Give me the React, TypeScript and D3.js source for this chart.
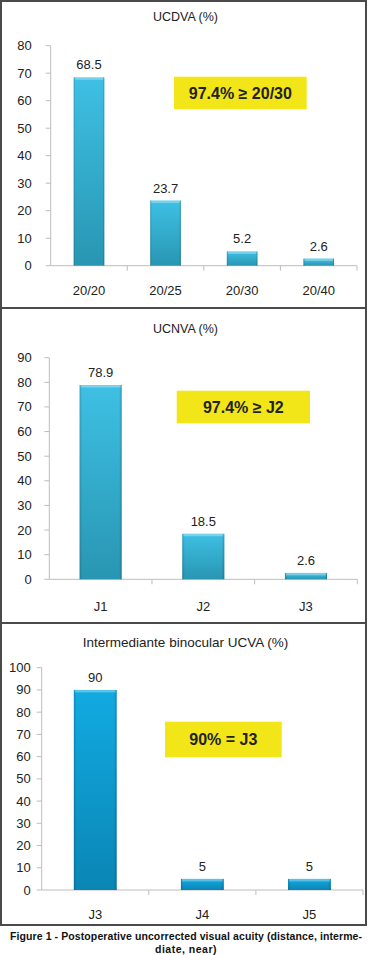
import React from "react";
import * as d3 from "d3";

const cats1 = ["20/20", "20/25", "20/30", "20/40"];
const vals1 = [68.5, 23.7, 5.2, 2.6];
const cats2 = ["J1", "J2", "J3"];
const vals2 = [78.9, 18.5, 2.6];
const cats3 = ["J3", "J4", "J5"];
const vals3 = [90, 5, 5];
const titles = ["UCDVA (%)", "UCNVA (%)", "Intermediante binocular UCVA (%)"];
const notes = ["97.4% \u2265 20/30", "97.4% \u2265 J2", "90% = J3"];
const yMaxes = [80, 90, 100];
const caption1 = "Figure 1 - Postoperative uncorrected visual acuity (distance, interme-";
const caption2 = "diate, near)";

const FONT = "'Liberation Sans', Arial, sans-serif";

type PanelProps = {
  id: string;
  cats: string[];
  vals: number[];
  yMax: number;
  title: string;
  note: string;
  box: [number, number, number, number];
  axisX: number;
  xEnd: number;
  y0: number;
  yTop: number;
  titleY: number;
  titleSize: number;
  labelY: number;
  tickRight: number;
  noteBox: [number, number, number, number];
  gradTop: string;
  gradBot: string;
  barRatio: number;
};

function Panel(p: PanelProps) {
  const x = d3.scaleBand<string>().domain(p.cats).range([p.axisX, p.xEnd]).paddingInner(0).paddingOuter(0);
  const y = d3.scaleLinear().domain([0, p.yMax]).range([p.y0, p.yTop]);
  const ticks = d3.range(0, p.yMax + 1, 10);
  const bw = x.bandwidth() * p.barRatio;
  const [bx, by, bwid, bh] = p.box;
  const [nx, ny, nw, nh] = p.noteBox;
  return (
    <g>
      <defs>
        <linearGradient id={p.id + "v"} x1="0" y1="0" x2="0" y2="1">
          <stop offset="0" stopColor={p.gradTop} />
          <stop offset="1" stopColor={p.gradBot} />
        </linearGradient>
        <linearGradient id={p.id + "h"} x1="0" y1="0" x2="1" y2="0">
          <stop offset="0" stopColor="#000" stopOpacity="0.18" />
          <stop offset="0.06" stopColor="#000" stopOpacity="0.0" />
          <stop offset="0.94" stopColor="#000" stopOpacity="0.0" />
          <stop offset="1" stopColor="#000" stopOpacity="0.22" />
        </linearGradient>
      </defs>
      <rect x={bx} y={by} width={bwid} height={bh} fill="#fff" stroke="#4a4a4a" strokeWidth={2} />
      <text x={(bx + bwid / 2) + 2} y={p.titleY} textAnchor="middle" dominantBaseline="central"
        fontFamily={FONT} fontSize={p.titleSize} fill="#222">{p.title}</text>
      <line x1={p.axisX} x2={p.axisX} y1={p.yTop} y2={p.y0} stroke="#bdbdbd" strokeWidth={1} />
      <line x1={p.axisX} x2={p.xEnd} y1={p.y0} y2={p.y0} stroke="#bdbdbd" strokeWidth={1} />
      {ticks.map((t) => (
        <g key={t}>
          <line x1={p.axisX - 5} x2={p.axisX} y1={y(t)} y2={y(t)} stroke="#bdbdbd" />
          <text x={p.tickRight} y={y(t)} textAnchor="end" dominantBaseline="central"
            fontFamily={FONT} fontSize={13} fill="#222">{t}</text>
        </g>
      ))}
      {p.cats.map((c) => (
        <line key={"xt" + c} x1={(x(c) as number) + x.bandwidth()} x2={(x(c) as number) + x.bandwidth()}
          y1={p.y0} y2={p.y0 + 5} stroke="#bdbdbd" />
      ))}
      {p.cats.map((c, i) => {
        const cx = (x(c) as number) + x.bandwidth() / 2;
        const v = p.vals[i];
        const top = y(v);
        const h = p.y0 - top;
        return (
          <g key={c}>
            <rect x={cx - bw / 2} y={top} width={bw} height={h} fill={`url(#${p.id}v)`} />
            <rect x={cx - bw / 2} y={top} width={bw} height={h} fill={`url(#${p.id}h)`} />
            <rect x={cx - bw / 2 + 1} y={top} width={bw - 2} height={Math.min(2.5, h)} fill="#fff" opacity={0.3} />
            <text x={cx} y={top - 8} textAnchor="middle" fontFamily={FONT} fontSize={13} fill="#222">{v}</text>
            <text x={cx} y={p.labelY} textAnchor="middle" dominantBaseline="central"
              fontFamily={FONT} fontSize={13} fill="#222">{c}</text>
          </g>
        );
      })}
      <rect x={nx} y={ny} width={nw} height={nh} fill="#f2e618" />
      <text x={nx + nw / 2} y={ny + nh / 2} textAnchor="middle" dominantBaseline="central"
        fontFamily={FONT} fontWeight="bold" fontSize={16} fill="#222">{p.note}</text>
    </g>
  );
}

export default function App() {
  return (
    <svg width={369} height={955} style={{ position: "absolute", left: 0, top: 0, background: "#fff" }}>
      <Panel id="p1" cats={cats1} vals={vals1} yMax={yMaxes[0]} title={titles[0]} note={notes[0]}
        box={[1, 1, 365, 307]} axisX={50.7} xEnd={357} y0={265.7} yTop={45.7} titleY={17} titleSize={12.5}
        labelY={290} tickRight={31.7} noteBox={[174, 76.7, 132.7, 32.6]} gradTop="#3ec0e4" gradBot="#2896b2" barRatio={0.4} />
      <Panel id="p2" cats={cats2} vals={vals2} yMax={yMaxes[1]} title={titles[1]} note={notes[1]}
        box={[1, 308, 365, 315]} axisX={49.3} xEnd={357.3} y0={579.3} yTop={357.7} titleY={329} titleSize={12.5}
        labelY={606.7} tickRight={31.7} noteBox={[176.7, 390.7, 133.3, 32.6]} gradTop="#3ec0e4" gradBot="#2896b2" barRatio={0.41} />
      <Panel id="p3" cats={cats3} vals={vals3} yMax={yMaxes[2]} title={titles[2]} note={notes[2]}
        box={[1, 623, 365, 302]} axisX={41.7} xEnd={363} y0={890} yTop={667.7} titleY={642.7} titleSize={13.5}
        labelY={914} tickRight={30.7} noteBox={[165, 721.7, 116.7, 35.6]} gradTop="#12aae2" gradBot="#0a86b4" barRatio={0.4} />
      <text x={186} y={936} textAnchor="middle" dominantBaseline="central" fontFamily={FONT}
        fontWeight="bold" fontSize={10.5} fill="#111" textLength={352} lengthAdjust="spacing">{caption1}</text>
      <text x={186} y={949} textAnchor="middle" dominantBaseline="central" fontFamily={FONT}
        fontWeight="bold" fontSize={10.5} fill="#111" letterSpacing={0.5}>{caption2}</text>
    </svg>
  );
}
